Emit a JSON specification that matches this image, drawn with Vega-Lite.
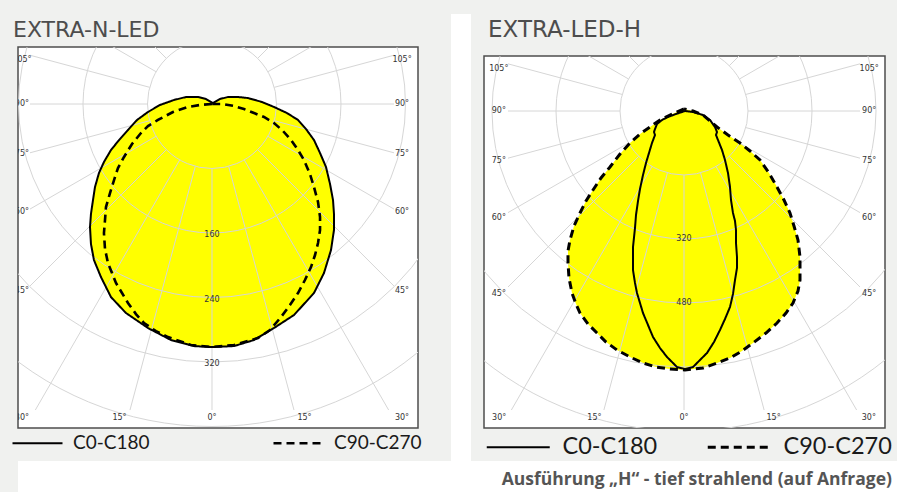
{
  "$schema": "https://vega.github.io/schema/vega-lite/v6.json",
  "background": "#f0f1ef",
  "padding": {"left": 0, "right": 0, "top": 11, "bottom": 0},
  "config": {"view": {"stroke": null}},
  "datasets": {
    "lc": [
      {"s":"C0-C180","i":0,"x":1.2,"y":-1.2},{"s":"C0-C180","i":1,"x":-7.4,"y":-6.2},{"s":"C0-C180","i":2,"x":-17.4,"y":-8.7},{"s":"C0-C180","i":3,"x":-32.2,"y":-8.7},{"s":"C0-C180","i":4,"x":-47.1,"y":-5.0},{"s":"C0-C180","i":5,"x":-64.5,"y":1.2},{"s":"C0-C180","i":6,"x":-79.4,"y":9.9},{"s":"C0-C180","i":7,"x":-93.0,"y":19.8},{"s":"C0-C180","i":8,"x":-104.2,"y":32.2},{"s":"C0-C180","i":9,"x":-115.3,"y":44.7},{"s":"C0-C180","i":10,"x":-125.3,"y":57.1},{"s":"C0-C180","i":11,"x":-134.0,"y":71.9},{"s":"C0-C180","i":12,"x":-140.2,"y":85.6},{"s":"C0-C180","i":13,"x":-145.1,"y":102.9},{"s":"C0-C180","i":14,"x":-147.6,"y":119.1},{"s":"C0-C180","i":15,"x":-150.1,"y":136.4},{"s":"C0-C180","i":16,"x":-151.3,"y":152.6},{"s":"C0-C180","i":17,"x":-150.1,"y":173.6},{"s":"C0-C180","i":18,"x":-146.4,"y":193.5},{"s":"C0-C180","i":19,"x":-137.7,"y":214.6},{"s":"C0-C180","i":20,"x":-125.3,"y":239.4},{"s":"C0-C180","i":21,"x":-106.7,"y":259.2},{"s":"C0-C180","i":22,"x":-79.4,"y":277.8},{"s":"C0-C180","i":23,"x":-50.9,"y":292.7},{"s":"C0-C180","i":24,"x":-22.3,"y":300.2},{"s":"C0-C180","i":25,"x":0,"y":301.4},{"s":"C0-C180","i":26,"x":27.3,"y":300.2},{"s":"C0-C180","i":27,"x":52.1,"y":292.7},{"s":"C0-C180","i":28,"x":76.9,"y":277.8},{"s":"C0-C180","i":29,"x":101.7,"y":261.7},{"s":"C0-C180","i":30,"x":126.5,"y":234.4},{"s":"C0-C180","i":31,"x":138.9,"y":209.6},{"s":"C0-C180","i":32,"x":147.6,"y":181.1},{"s":"C0-C180","i":33,"x":151.3,"y":156.3},{"s":"C0-C180","i":34,"x":151.3,"y":136.4},{"s":"C0-C180","i":35,"x":150.1,"y":119.1},{"s":"C0-C180","i":36,"x":146.4,"y":99.2},{"s":"C0-C180","i":37,"x":141.4,"y":78.1},{"s":"C0-C180","i":38,"x":134.0,"y":60.8},{"s":"C0-C180","i":39,"x":126.5,"y":44.7},{"s":"C0-C180","i":40,"x":116.6,"y":31.0},{"s":"C0-C180","i":41,"x":106.7,"y":19.8},{"s":"C0-C180","i":42,"x":93.0,"y":11.2},{"s":"C0-C180","i":43,"x":76.9,"y":3.7},{"s":"C0-C180","i":44,"x":62.0,"y":-2.5},{"s":"C0-C180","i":45,"x":44.7,"y":-7.4},{"s":"C0-C180","i":46,"x":32.2,"y":-8.7},{"s":"C0-C180","i":47,"x":19.8,"y":-8.7},{"s":"C0-C180","i":48,"x":9.9,"y":-6.2},{"s":"C0-C180","i":49,"x":1.2,"y":-1.2},
      {"s":"C90-C270","i":0,"x":0,"y":0},{"s":"C90-C270","i":1,"x":-14.9,"y":1.2},{"s":"C90-C270","i":2,"x":-29.8,"y":3.7},{"s":"C90-C270","i":3,"x":-48.4,"y":9.9},{"s":"C90-C270","i":4,"x":-67.0,"y":19.8},{"s":"C90-C270","i":5,"x":-79.4,"y":27.3},{"s":"C90-C270","i":6,"x":-88.1,"y":36.0},{"s":"C90-C270","i":7,"x":-99.2,"y":49.6},{"s":"C90-C270","i":8,"x":-109.1,"y":65.7},{"s":"C90-C270","i":9,"x":-116.6,"y":79.4},{"s":"C90-C270","i":10,"x":-121.5,"y":94.3},{"s":"C90-C270","i":11,"x":-126.5,"y":110.4},{"s":"C90-C270","i":12,"x":-131.5,"y":127.8},{"s":"C90-C270","i":13,"x":-132.7,"y":143.9},{"s":"C90-C270","i":14,"x":-134.0,"y":160.0},{"s":"C90-C270","i":15,"x":-132.7,"y":179.8},{"s":"C90-C270","i":16,"x":-129.0,"y":197.2},{"s":"C90-C270","i":17,"x":-124.0,"y":209.6},{"s":"C90-C270","i":18,"x":-119.1,"y":222.0},{"s":"C90-C270","i":19,"x":-111.6,"y":234.4},{"s":"C90-C270","i":20,"x":-104.2,"y":246.8},{"s":"C90-C270","i":21,"x":-94.3,"y":260.5},{"s":"C90-C270","i":22,"x":-84.3,"y":271.6},{"s":"C90-C270","i":23,"x":-69.5,"y":281.6},{"s":"C90-C270","i":24,"x":-54.6,"y":289.0},{"s":"C90-C270","i":25,"x":-26.0,"y":298.9},{"s":"C90-C270","i":26,"x":0,"y":301.4},{"s":"C90-C270","i":27,"x":27.3,"y":298.9},{"s":"C90-C270","i":28,"x":57.1,"y":290.2},{"s":"C90-C270","i":29,"x":71.9,"y":280.3},{"s":"C90-C270","i":30,"x":85.6,"y":264.2},{"s":"C90-C270","i":31,"x":96.7,"y":249.3},{"s":"C90-C270","i":32,"x":106.7,"y":234.4},{"s":"C90-C270","i":33,"x":115.3,"y":218.3},{"s":"C90-C270","i":34,"x":122.8,"y":202.2},{"s":"C90-C270","i":35,"x":127.8,"y":187.3},{"s":"C90-C270","i":36,"x":131.5,"y":172.4},{"s":"C90-C270","i":37,"x":134.0,"y":156.3},{"s":"C90-C270","i":38,"x":134.0,"y":140.2},{"s":"C90-C270","i":39,"x":131.5,"y":121.5},{"s":"C90-C270","i":40,"x":126.5,"y":102.9},{"s":"C90-C270","i":41,"x":121.5,"y":86.8},{"s":"C90-C270","i":42,"x":114.1,"y":69.5},{"s":"C90-C270","i":43,"x":106.7,"y":57.1},{"s":"C90-C270","i":44,"x":98.0,"y":44.7},{"s":"C90-C270","i":45,"x":88.1,"y":33.5},{"s":"C90-C270","i":46,"x":76.9,"y":23.6},{"s":"C90-C270","i":47,"x":64.5,"y":16.1},{"s":"C90-C270","i":48,"x":52.1,"y":11.2},{"s":"C90-C270","i":49,"x":39.7,"y":6.2},{"s":"C90-C270","i":50,"x":27.3,"y":2.5},{"s":"C90-C270","i":51,"x":13.6,"y":0},{"s":"C90-C270","i":52,"x":0,"y":0}
    ],
    "rc": [
      {"s":"C90-C270","i":0,"x":0,"y":-5},{"s":"C90-C270","i":1,"x":-35,"y":10},{"s":"C90-C270","i":2,"x":-60,"y":22.5},{"s":"C90-C270","i":3,"x":-85,"y":40},{"s":"C90-C270","i":4,"x":-110,"y":57.5},{"s":"C90-C270","i":5,"x":-135,"y":80},{"s":"C90-C270","i":6,"x":-160,"y":107.5},{"s":"C90-C270","i":7,"x":-185,"y":140},{"s":"C90-C270","i":8,"x":-207.5,"y":167.5},{"s":"C90-C270","i":9,"x":-227.5,"y":197.5},{"s":"C90-C270","i":10,"x":-245,"y":225},{"s":"C90-C270","i":11,"x":-260,"y":255},{"s":"C90-C270","i":12,"x":-275,"y":287.5},{"s":"C90-C270","i":13,"x":-285,"y":322.5},{"s":"C90-C270","i":14,"x":-290,"y":350},{"s":"C90-C270","i":15,"x":-290,"y":380},{"s":"C90-C270","i":16,"x":-287.5,"y":417.5},{"s":"C90-C270","i":17,"x":-280,"y":455},{"s":"C90-C270","i":18,"x":-270,"y":482.5},{"s":"C90-C270","i":19,"x":-260,"y":505},{"s":"C90-C270","i":20,"x":-240,"y":532.5},{"s":"C90-C270","i":21,"x":-217.5,"y":555},{"s":"C90-C270","i":22,"x":-195,"y":577.5},{"s":"C90-C270","i":23,"x":-167.5,"y":597.5},{"s":"C90-C270","i":24,"x":-135,"y":615},{"s":"C90-C270","i":25,"x":-102.5,"y":630},{"s":"C90-C270","i":26,"x":-70,"y":640},{"s":"C90-C270","i":27,"x":-35,"y":645},{"s":"C90-C270","i":28,"x":2.5,"y":647.5},{"s":"C90-C270","i":29,"x":47.5,"y":642.5},{"s":"C90-C270","i":30,"x":82.5,"y":630},{"s":"C90-C270","i":31,"x":115,"y":617.5},{"s":"C90-C270","i":32,"x":145,"y":600},{"s":"C90-C270","i":33,"x":172.5,"y":580},{"s":"C90-C270","i":34,"x":205,"y":555},{"s":"C90-C270","i":35,"x":232.5,"y":530},{"s":"C90-C270","i":36,"x":255,"y":505},{"s":"C90-C270","i":37,"x":272.5,"y":480},{"s":"C90-C270","i":38,"x":285,"y":450},{"s":"C90-C270","i":39,"x":290,"y":422.5},{"s":"C90-C270","i":40,"x":290,"y":392.5},{"s":"C90-C270","i":41,"x":290,"y":365},{"s":"C90-C270","i":42,"x":285,"y":322.5},{"s":"C90-C270","i":43,"x":275,"y":287.5},{"s":"C90-C270","i":44,"x":265,"y":255},{"s":"C90-C270","i":45,"x":250,"y":222.5},{"s":"C90-C270","i":46,"x":232.5,"y":190},{"s":"C90-C270","i":47,"x":212.5,"y":155},{"s":"C90-C270","i":48,"x":190,"y":122.5},{"s":"C90-C270","i":49,"x":165,"y":100},{"s":"C90-C270","i":50,"x":140,"y":80},{"s":"C90-C270","i":51,"x":110,"y":60},{"s":"C90-C270","i":52,"x":82.5,"y":40},{"s":"C90-C270","i":53,"x":65,"y":25},{"s":"C90-C270","i":54,"x":47.5,"y":10},{"s":"C90-C270","i":55,"x":22.5,"y":0},{"s":"C90-C270","i":56,"x":0,"y":-5},
      {"s":"C0-C180","i":0,"x":2.5,"y":0},{"s":"C0-C180","i":1,"x":-20,"y":7.5},{"s":"C0-C180","i":2,"x":-40,"y":15},{"s":"C0-C180","i":3,"x":-55,"y":22.5},{"s":"C0-C180","i":4,"x":-67.5,"y":32.5},{"s":"C0-C180","i":5,"x":-72.5,"y":45},{"s":"C0-C180","i":6,"x":-75,"y":52.5},{"s":"C0-C180","i":7,"x":-72.5,"y":60},{"s":"C0-C180","i":8,"x":-80,"y":80},{"s":"C0-C180","i":9,"x":-87.5,"y":105},{"s":"C0-C180","i":10,"x":-95,"y":130},{"s":"C0-C180","i":11,"x":-102.5,"y":160},{"s":"C0-C180","i":12,"x":-110,"y":195},{"s":"C0-C180","i":13,"x":-115,"y":225},{"s":"C0-C180","i":14,"x":-120,"y":260},{"s":"C0-C180","i":15,"x":-122.5,"y":292.5},{"s":"C0-C180","i":16,"x":-127.5,"y":340},{"s":"C0-C180","i":17,"x":-127.5,"y":397.5},{"s":"C0-C180","i":18,"x":-122.5,"y":430},{"s":"C0-C180","i":19,"x":-117.5,"y":455},{"s":"C0-C180","i":20,"x":-110,"y":480},{"s":"C0-C180","i":21,"x":-102.5,"y":505},{"s":"C0-C180","i":22,"x":-90,"y":535},{"s":"C0-C180","i":23,"x":-77.5,"y":565},{"s":"C0-C180","i":24,"x":-60,"y":592.5},{"s":"C0-C180","i":25,"x":-42.5,"y":615},{"s":"C0-C180","i":26,"x":-27.5,"y":630},{"s":"C0-C180","i":27,"x":-17.5,"y":640},{"s":"C0-C180","i":28,"x":2.5,"y":645},{"s":"C0-C180","i":29,"x":22.5,"y":640},{"s":"C0-C180","i":30,"x":40,"y":622.5},{"s":"C0-C180","i":31,"x":57.5,"y":605},{"s":"C0-C180","i":32,"x":75,"y":577.5},{"s":"C0-C180","i":33,"x":90,"y":547.5},{"s":"C0-C180","i":34,"x":102.5,"y":520},{"s":"C0-C180","i":35,"x":115,"y":490},{"s":"C0-C180","i":36,"x":122.5,"y":457.5},{"s":"C0-C180","i":37,"x":127.5,"y":422.5},{"s":"C0-C180","i":38,"x":132.5,"y":392.5},{"s":"C0-C180","i":39,"x":132.5,"y":365},{"s":"C0-C180","i":40,"x":130,"y":330},{"s":"C0-C180","i":41,"x":130,"y":297.5},{"s":"C0-C180","i":42,"x":127.5,"y":275},{"s":"C0-C180","i":43,"x":122.5,"y":255},{"s":"C0-C180","i":44,"x":117.5,"y":222.5},{"s":"C0-C180","i":45,"x":115,"y":190},{"s":"C0-C180","i":46,"x":110,"y":155},{"s":"C0-C180","i":47,"x":102.5,"y":122.5},{"s":"C0-C180","i":48,"x":95,"y":97.5},{"s":"C0-C180","i":49,"x":85,"y":72.5},{"s":"C0-C180","i":50,"x":80,"y":60},{"s":"C0-C180","i":51,"x":82.5,"y":52.5},{"s":"C0-C180","i":52,"x":77.5,"y":40},{"s":"C0-C180","i":53,"x":65,"y":22.5},{"s":"C0-C180","i":54,"x":47.5,"y":10},{"s":"C0-C180","i":55,"x":22.5,"y":2.5},{"s":"C0-C180","i":56,"x":2.5,"y":0}
    ],
    "lr": [
      {"x":0,"y":80,"x2":0,"y2":379.5},
      {"x":20.7,"y":77.3,"x2":101.7,"y2":379.5},{"x":-20.7,"y":77.3,"x2":-101.7,"y2":379.5},
      {"x":40,"y":69.3,"x2":219.1,"y2":379.5},{"x":-40,"y":69.3,"x2":-219.1,"y2":379.5},
      {"x":56.6,"y":56.6,"x2":225.7,"y2":225.7},{"x":-56.6,"y":56.6,"x2":-225.7,"y2":225.7},
      {"x":69.3,"y":40,"x2":225.7,"y2":130.3},{"x":-69.3,"y":40,"x2":-225.7,"y2":130.3},
      {"x":77.3,"y":20.7,"x2":225.7,"y2":60.5},{"x":-77.3,"y":20.7,"x2":-225.7,"y2":60.5},
      {"x":80,"y":0,"x2":225.7,"y2":0},{"x":-80,"y":0,"x2":-225.7,"y2":0},
      {"x":77.3,"y":-20.7,"x2":225.7,"y2":-60.5},{"x":-77.3,"y":-20.7,"x2":-225.7,"y2":-60.5},
      {"x":69.3,"y":-40,"x2":519.6,"y2":-300},{"x":-69.3,"y":-40,"x2":-519.6,"y2":-300},
      {"x":56.6,"y":-56.6,"x2":424.3,"y2":-424.3},{"x":-56.6,"y":-56.6,"x2":-424.3,"y2":-424.3},
      {"x":40,"y":-69.3,"x2":300,"y2":-519.6},{"x":-40,"y":-69.3,"x2":-300,"y2":-519.6},
      {"x":20.7,"y":-77.3,"x2":155.3,"y2":-579.6},{"x":-20.7,"y":-77.3,"x2":-155.3,"y2":-579.6},
      {"x":0,"y":-80,"x2":0,"y2":-600}
    ],
    "rr": [
      {"x":0,"y":160,"x2":0,"y2":747.5},
      {"x":41.4,"y":154.5,"x2":200.3,"y2":747.5},{"x":-41.4,"y":154.5,"x2":-200.3,"y2":747.5},
      {"x":80,"y":138.6,"x2":431.6,"y2":747.5},{"x":-80,"y":138.6,"x2":-431.6,"y2":747.5},
      {"x":113.1,"y":113.1,"x2":440,"y2":440},{"x":-113.1,"y":113.1,"x2":-440,"y2":440},
      {"x":138.6,"y":80,"x2":440,"y2":254},{"x":-138.6,"y":80,"x2":-440,"y2":254},
      {"x":154.5,"y":41.4,"x2":440,"y2":117.9},{"x":-154.5,"y":41.4,"x2":-440,"y2":117.9},
      {"x":160,"y":0,"x2":440,"y2":0},{"x":-160,"y":0,"x2":-440,"y2":0},
      {"x":154.5,"y":-41.4,"x2":440,"y2":-117.9},{"x":-154.5,"y":-41.4,"x2":-440,"y2":-117.9},
      {"x":138.6,"y":-80,"x2":1299,"y2":-750},{"x":-138.6,"y":-80,"x2":-1299,"y2":-750},
      {"x":113.1,"y":-113.1,"x2":1060.7,"y2":-1060.7},{"x":-113.1,"y":-113.1,"x2":-1060.7,"y2":-1060.7},
      {"x":80,"y":-138.6,"x2":750,"y2":-1299},{"x":-80,"y":-138.6,"x2":-750,"y2":-1299},
      {"x":41.4,"y":-154.5,"x2":388.2,"y2":-1448.9},{"x":-41.4,"y":-154.5,"x2":-388.2,"y2":-1448.9},
      {"x":0,"y":-160,"x2":0,"y2":-1500}
    ],
    "lcirc": [{"r":80},{"r":160},{"r":240},{"r":320},{"r":400},{"r":480}],
    "rcirc": [{"r":160},{"r":320},{"r":480},{"r":640},{"r":800},{"r":960}],
    "llab": [
      {"t":"105°","x":235.7,"y":-54.6},{"t":"105°","x":-235.7,"y":-54.6},
      {"t":"90°","x":235.7,"y":0},{"t":"90°","x":-235.7,"y":0},
      {"t":"75°","x":235.7,"y":62},{"t":"75°","x":-235.7,"y":62},
      {"t":"60°","x":235.7,"y":134},{"t":"60°","x":-235.7,"y":134},
      {"t":"45°","x":235.7,"y":232},{"t":"45°","x":-235.7,"y":232},
      {"t":"30°","x":235.7,"y":389.5},{"t":"30°","x":-235.7,"y":389.5},
      {"t":"15°","x":114.7,"y":389.5},{"t":"15°","x":-114.7,"y":389.5},
      {"t":"0°","x":0,"y":389.5},
      {"t":"160","x":0,"y":162.5},{"t":"240","x":0,"y":243},{"t":"320","x":0,"y":323}
    ],
    "rlab": [
      {"t":"105°","x":463,"y":-105},{"t":"105°","x":-463,"y":-105},
      {"t":"90°","x":463,"y":0},{"t":"90°","x":-463,"y":0},
      {"t":"75°","x":463,"y":125},{"t":"75°","x":-463,"y":125},
      {"t":"60°","x":463,"y":267.5},{"t":"60°","x":-463,"y":267.5},
      {"t":"45°","x":463,"y":457.5},{"t":"45°","x":-463,"y":457.5},
      {"t":"30°","x":462,"y":767.5},{"t":"30°","x":-462,"y":767.5},
      {"t":"15°","x":224,"y":767.5},{"t":"15°","x":-224,"y":767.5},
      {"t":"0°","x":0,"y":767.5},
      {"t":"320","x":0,"y":320},{"t":"480","x":0,"y":480}
    ],
    "foot": [{"t":"Ausführung „H“ - tief strahlend (auf Anfrage)"}],
    "blank": [{"k": 1}]
  },
  "concat": [
    {
      "spacing": 10,
      "resolve": {
        "scale": {"x": "independent", "y": "independent", "size": "independent", "strokeDash": "independent", "strokeWidth": "independent"},
        "legend": {"strokeDash": "independent"}
      },
      "hconcat": [
        {
          "spacing": 0,
          "resolve": {
            "scale": {"x": "independent", "y": "independent", "size": "independent", "strokeDash": "independent", "strokeWidth": "independent"},
            "legend": {"strokeDash": "independent"}
          },
          "vconcat": [
            {"width": 1, "height": 1, "data": {"name": "blank"}, "mark": {"type": "point", "opacity": 0}},
            {
              "width": 400,
              "height": 381,
              "title": {"text": "EXTRA-N-LED", "anchor": "start", "frame": "group", "dx": -5, "font": "DejaVu Sans", "fontSize": 22, "fontWeight": "normal", "color": "#4d4d4d", "offset": 5},
              "view": {"fill": "white", "stroke": "#4d4d4d", "strokeWidth": 1.5},
              "layer": [
                {
                  "data": {"name": "lc"},
                  "mark": {"type": "line", "fill": "#ffff00", "strokeOpacity": 0, "clip": true},
                  "encoding": {
                    "x": {"field": "x", "type": "quantitative", "scale": {"domain": [-240.6, 255.5], "nice": false, "zero": false}, "axis": null},
                    "y": {"field": "y", "type": "quantitative", "scale": {"domain": [-70.7, 401.8], "nice": false, "zero": false, "reverse": true}, "axis": {"domain": false, "ticks": false, "labels": false, "grid": false, "title": ".", "titleColor": "#f0f1ef", "titleAngle": 0, "titleX": -17, "titleY": 0, "titleAlign": "left", "titleBaseline": "top", "titleFontSize": 6, "minExtent": 0, "maxExtent": 0}},
                    "detail": {"field": "s"},
                    "order": {"field": "i", "type": "quantitative"}
                  }
                },
                {
                  "data": {"name": "lcirc"},
                  "mark": {"type": "point", "shape": "circle", "filled": false, "stroke": "#d6d6d6", "strokeWidth": 1, "opacity": 1, "clip": true},
                  "encoding": {
                    "x": {"datum": 0, "type": "quantitative", "scale": {"domain": [-240.6, 255.5], "nice": false, "zero": false}, "axis": null},
                    "y": {"datum": 0, "type": "quantitative", "scale": {"domain": [-70.7, 401.8], "nice": false, "zero": false, "reverse": true}, "axis": {"domain": false, "ticks": false, "labels": false, "grid": false, "title": ".", "titleColor": "#f0f1ef", "titleAngle": 0, "titleX": -17, "titleY": 0, "titleAlign": "left", "titleBaseline": "top", "titleFontSize": 6, "minExtent": 0, "maxExtent": 0}},
                    "size": {"field": "r", "type": "quantitative", "scale": {"type": "pow", "exponent": 2, "domain": [0, 400], "range": [0, 416025]}, "legend": null}
                  }
                },
                {
                  "data": {"name": "lr"},
                  "mark": {"type": "rule", "stroke": "#d6d6d6", "strokeWidth": 1, "clip": true},
                  "encoding": {
                    "x": {"field": "x", "type": "quantitative", "scale": {"domain": [-240.6, 255.5], "nice": false, "zero": false}, "axis": null},
                    "y": {"field": "y", "type": "quantitative", "scale": {"domain": [-70.7, 401.8], "nice": false, "zero": false, "reverse": true}, "axis": {"domain": false, "ticks": false, "labels": false, "grid": false, "title": ".", "titleColor": "#f0f1ef", "titleAngle": 0, "titleX": -17, "titleY": 0, "titleAlign": "left", "titleBaseline": "top", "titleFontSize": 6, "minExtent": 0, "maxExtent": 0}},
                    "x2": {"field": "x2"},
                    "y2": {"field": "y2"}
                  }
                },
                {
                  "data": {"name": "lc"},
                  "mark": {"type": "line", "stroke": "black", "clip": true},
                  "encoding": {
                    "x": {"field": "x", "type": "quantitative", "scale": {"domain": [-240.6, 255.5], "nice": false, "zero": false}, "axis": null},
                    "y": {"field": "y", "type": "quantitative", "scale": {"domain": [-70.7, 401.8], "nice": false, "zero": false, "reverse": true}, "axis": {"domain": false, "ticks": false, "labels": false, "grid": false, "title": ".", "titleColor": "#f0f1ef", "titleAngle": 0, "titleX": -17, "titleY": 0, "titleAlign": "left", "titleBaseline": "top", "titleFontSize": 6, "minExtent": 0, "maxExtent": 0}},
                    "order": {"field": "i", "type": "quantitative"},
                    "strokeWidth": {"field": "s", "type": "nominal", "scale": {"domain": ["C0-C180", "C90-C270"], "range": [2, 2.6]}, "legend": null},
                    "strokeDash": {"field": "s", "type": "nominal", "scale": {"domain": ["C0-C180", "C90-C270"], "range": [[1, 0], [8, 5]]},
                      "legend": {"orient": "none", "legendX": 10, "legendY": 386.5, "direction": "horizontal", "title": null, "symbolType": "M-5,0L5,0", "symbolSize": 100, "symbolStrokeWidth": 2.2, "symbolStrokeColor": "black", "labelFont": "Lato", "labelFontSize": 19, "labelColor": "#1a1a1a", "labelOffset": 26, "columnPadding": 118, "padding": 0, "labelLimit": 0}}
                  }
                },
                {
                  "data": {"name": "llab"},
                  "mark": {"type": "text", "font": "DejaVu Sans", "fontSize": 8, "fill": "#333333", "align": "center", "baseline": "middle", "clip": true},
                  "encoding": {
                    "x": {"field": "x", "type": "quantitative", "scale": {"domain": [-240.6, 255.5], "nice": false, "zero": false}, "axis": null},
                    "y": {"field": "y", "type": "quantitative", "scale": {"domain": [-70.7, 401.8], "nice": false, "zero": false, "reverse": true}, "axis": {"domain": false, "ticks": false, "labels": false, "grid": false, "title": ".", "titleColor": "#f0f1ef", "titleAngle": 0, "titleX": -17, "titleY": 0, "titleAlign": "left", "titleBaseline": "top", "titleFontSize": 6, "minExtent": 0, "maxExtent": 0}},
                    "text": {"field": "t"}
                  }
                }
              ]
            }
          ]
        },
        {
          "width": 20,
          "height": 447,
          "view": {"fill": "white", "stroke": null},
          "data": {"name": "blank"},
          "mark": {"type": "point", "opacity": 0},
          "encoding": {
            "y": {"datum": 0, "type": "quantitative", "axis": {"domain": false, "ticks": false, "labels": false, "grid": false, "title": ".", "titleColor": "#f0f1ef", "titleAngle": 0, "titleX": -18, "titleY": 0, "titleAlign": "left", "titleBaseline": "top", "titleFontSize": 6, "minExtent": 0, "maxExtent": 0}}
          }
        },
        {
          "spacing": 0,
          "resolve": {
            "scale": {"x": "independent", "y": "independent", "size": "independent", "strokeDash": "independent", "strokeWidth": "independent"},
            "legend": {"strokeDash": "independent"}
          },
          "vconcat": [
            {"width": 1, "height": 1, "data": {"name": "blank"}, "mark": {"type": "point", "opacity": 0}},
            {
              "width": 401,
              "height": 372,
              "title": {"text": "EXTRA-LED-H", "anchor": "start", "frame": "group", "dx": 4, "font": "DejaVu Sans", "fontSize": 23, "fontWeight": "normal", "color": "#4d4d4d", "offset": 14},
              "view": {"fill": "white", "stroke": "#4d4d4d", "strokeWidth": 1.5},
              "layer": [
                {
                  "data": {"name": "rc"},
                  "mark": {"type": "line", "fill": "#ffff00", "strokeOpacity": 0, "clip": true},
                  "encoding": {
                    "x": {"field": "x", "type": "quantitative", "scale": {"domain": [-500, 502.5], "nice": false, "zero": false}, "axis": null},
                    "y": {"field": "y", "type": "quantitative", "scale": {"domain": [-137.5, 792.5], "nice": false, "zero": false, "reverse": true}, "axis": null},
                    "detail": {"field": "s"},
                    "order": {"field": "i", "type": "quantitative"}
                  }
                },
                {
                  "data": {"name": "rcirc"},
                  "mark": {"type": "point", "shape": "circle", "filled": false, "stroke": "#d6d6d6", "strokeWidth": 1, "opacity": 1, "clip": true},
                  "encoding": {
                    "x": {"datum": 0, "type": "quantitative", "scale": {"domain": [-500, 502.5], "nice": false, "zero": false}, "axis": null},
                    "y": {"datum": 0, "type": "quantitative", "scale": {"domain": [-137.5, 792.5], "nice": false, "zero": false, "reverse": true}, "axis": null},
                    "size": {"field": "r", "type": "quantitative", "scale": {"type": "pow", "exponent": 2, "domain": [0, 800], "range": [0, 409600]}, "legend": null}
                  }
                },
                {
                  "data": {"name": "rr"},
                  "mark": {"type": "rule", "stroke": "#d6d6d6", "strokeWidth": 1, "clip": true},
                  "encoding": {
                    "x": {"field": "x", "type": "quantitative", "scale": {"domain": [-500, 502.5], "nice": false, "zero": false}, "axis": null},
                    "y": {"field": "y", "type": "quantitative", "scale": {"domain": [-137.5, 792.5], "nice": false, "zero": false, "reverse": true}, "axis": null},
                    "x2": {"field": "x2"},
                    "y2": {"field": "y2"}
                  }
                },
                {
                  "data": {"name": "rc"},
                  "mark": {"type": "line", "stroke": "black", "clip": true},
                  "encoding": {
                    "x": {"field": "x", "type": "quantitative", "scale": {"domain": [-500, 502.5], "nice": false, "zero": false}, "axis": null},
                    "y": {"field": "y", "type": "quantitative", "scale": {"domain": [-137.5, 792.5], "nice": false, "zero": false, "reverse": true}, "axis": null},
                    "order": {"field": "i", "type": "quantitative"},
                    "strokeWidth": {"field": "s", "type": "nominal", "scale": {"domain": ["C0-C180", "C90-C270"], "range": [2, 3]}, "legend": null},
                    "strokeDash": {"field": "s", "type": "nominal", "scale": {"domain": ["C0-C180", "C90-C270"], "range": [[1, 0], [8, 5]]},
                      "legend": {"orient": "none", "legendX": 22.5, "legendY": 379, "direction": "horizontal", "title": null, "symbolType": "M-6.3,0L6.3,0", "symbolSize": 100, "symbolStrokeWidth": 2.5, "symbolStrokeColor": "black", "labelFont": "Lato", "labelFontSize": 23.5, "labelColor": "#1a1a1a", "labelOffset": 32.5, "columnPadding": 44, "padding": 0, "labelLimit": 0}}
                  }
                },
                {
                  "data": {"name": "rlab"},
                  "mark": {"type": "text", "font": "DejaVu Sans", "fontSize": 8, "fill": "#333333", "align": "center", "baseline": "middle", "clip": true},
                  "encoding": {
                    "x": {"field": "x", "type": "quantitative", "scale": {"domain": [-500, 502.5], "nice": false, "zero": false}, "axis": null},
                    "y": {"field": "y", "type": "quantitative", "scale": {"domain": [-137.5, 792.5], "nice": false, "zero": false, "reverse": true}, "axis": null},
                    "text": {"field": "t"}
                  }
                }
              ]
            }
          ]
        }
      ]
    },
    {
      "width": 880,
      "height": 33,
      "view": {"fill": "white", "stroke": null},
      "data": {"name": "foot"},
      "mark": {"type": "text", "x": "width", "y": "height", "dx": -6, "dy": -9, "align": "right", "baseline": "alphabetic", "font": "Open Sans", "fontSize": 17.5, "fontWeight": "bold", "fill": "#555555"},
      "encoding": {"text": {"field": "t"}}
    }
  ],
  "columns": 1,
  "spacing": 0
}
